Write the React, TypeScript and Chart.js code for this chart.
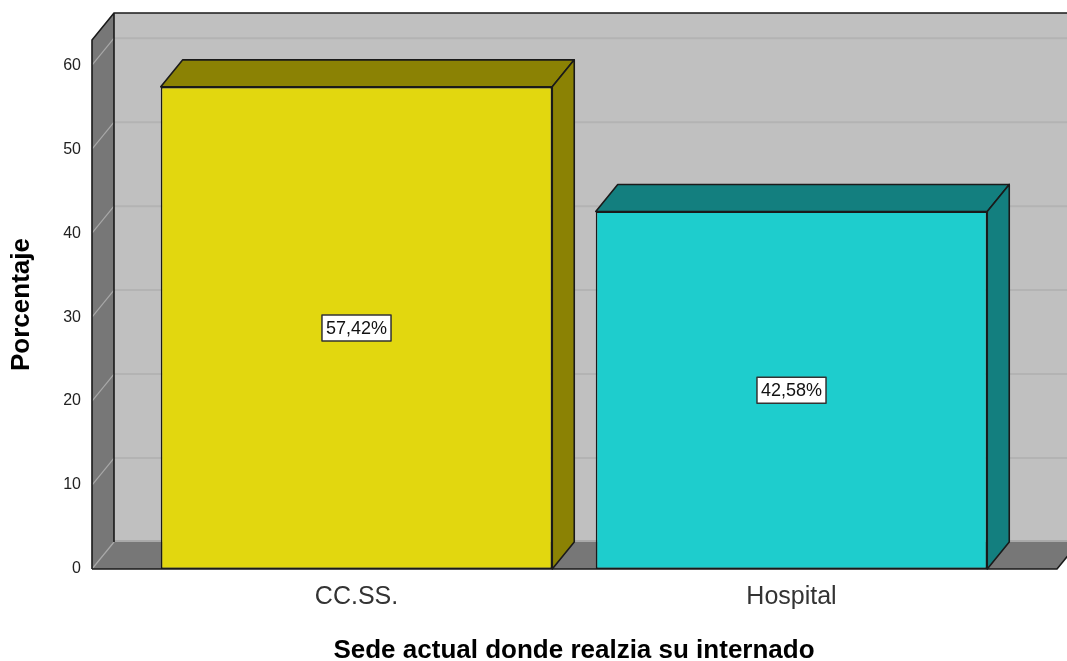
import React, { useEffect, useRef } from "react";
import { Chart, registerables } from "chart.js";

Chart.register(...registerables);

// ---- data ----
const categories = ["CC.SS.", "Hospital"];
const percentages = [57.42, 42.58];
const valueLabels = ["57,42%", "42,58%"];
const yTickValues = [0, 10, 20, 30, 40, 50, 60];
const yMin = 0;
const yMax = 63;

// ---- styles ----
const frontColors = ["#e2d70f", "#1ecdcd"];
const shadeColors = ["#8b8204", "#137f7f"];
const FONT = 'Arial, "Liberation Sans", Helvetica, sans-serif';
const DX = 22;
const DY = 27;
const WALL_LEFT_EXT = 47;
const WALL_RIGHT_EXT = 48;

const box3d = {
  id: "box3d",
  beforeDatasetsDraw(chart: any) {
    const { ctx, chartArea, scales } = chart;
    const ys = scales.y;
    const L = chartArea.left - WALL_LEFT_EXT;
    const R = chartArea.right + WALL_RIGHT_EXT;
    const T = chartArea.top;
    const B = chartArea.bottom;
    ctx.save();
    // back wall
    ctx.fillStyle = "#c0c0c0";
    ctx.fillRect(L + DX, T - DY, R - L + 40, B - T);
    // grid lines on back wall
    ctx.strokeStyle = "#b3b3b3";
    ctx.lineWidth = 2;
    yTickValues.forEach((v) => {
      if (v === 0) return;
      const py = ys.getPixelForValue(v) - DY;
      ctx.beginPath();
      ctx.moveTo(L + DX, py);
      ctx.lineTo(R + DX + 40, py);
      ctx.stroke();
    });
    // left wall
    ctx.fillStyle = "#777777";
    ctx.beginPath();
    ctx.moveTo(L, T);
    ctx.lineTo(L + DX, T - DY);
    ctx.lineTo(L + DX, B - DY);
    ctx.lineTo(L, B);
    ctx.closePath();
    ctx.fill();
    // floor
    ctx.beginPath();
    ctx.moveTo(L, B);
    ctx.lineTo(L + DX, B - DY);
    ctx.lineTo(R + DX, B - DY);
    ctx.lineTo(R, B);
    ctx.closePath();
    ctx.fill();
    // band where the floor meets the back wall
    ctx.strokeStyle = "#a9a9a9";
    ctx.lineWidth = 2;
    ctx.beginPath();
    ctx.moveTo(L + DX, B - DY - 1);
    ctx.lineTo(R + DX + 40, B - DY - 1);
    ctx.stroke();
    // diagonal grid on left wall
    ctx.strokeStyle = "#a8a8a8";
    ctx.lineWidth = 1.2;
    yTickValues.forEach((v) => {
      const py = ys.getPixelForValue(v);
      ctx.beginPath();
      ctx.moveTo(L, py);
      ctx.lineTo(L + DX, py - DY);
      ctx.stroke();
    });
    // outlines
    ctx.strokeStyle = "#1a1a1a";
    ctx.lineWidth = 1.6;
    ctx.beginPath();
    ctx.moveTo(L, B);
    ctx.lineTo(L, T);
    ctx.lineTo(L + DX, T - DY);
    ctx.lineTo(R + DX + 40, T - DY);
    ctx.moveTo(L + DX, T - DY);
    ctx.lineTo(L + DX, B - DY);
    ctx.moveTo(L, B);
    ctx.lineTo(R, B);
    ctx.lineTo(R + DX, B - DY);
    ctx.stroke();
    ctx.restore();
  },
  afterDatasetsDraw(chart: any) {
    const { ctx } = chart;
    const meta = chart.getDatasetMeta(0);
    ctx.save();
    meta.data.forEach((bar: any, i: number) => {
      const { x, y, base, width } = bar.getProps(["x", "y", "base", "width"], true);
      const l = x - width / 2;
      const r = x + width / 2;
      ctx.fillStyle = shadeColors[i];
      ctx.strokeStyle = "#1a1a1a";
      ctx.lineWidth = 1.6;
      ctx.lineJoin = "round";
      // top face
      ctx.beginPath();
      ctx.moveTo(l, y);
      ctx.lineTo(l + DX, y - DY);
      ctx.lineTo(r + DX, y - DY);
      ctx.lineTo(r, y);
      ctx.closePath();
      ctx.fill();
      ctx.stroke();
      // side face
      ctx.beginPath();
      ctx.moveTo(r, y);
      ctx.lineTo(r + DX, y - DY);
      ctx.lineTo(r + DX, base - DY);
      ctx.lineTo(r, base);
      ctx.closePath();
      ctx.fill();
      ctx.stroke();
      // value label
      const cy = (y + base) / 2;
      ctx.font = `18px ${FONT}`;
      const tw = ctx.measureText(valueLabels[i]).width;
      const bw = tw + 8;
      const bh = 26;
      ctx.fillStyle = "#ffffff";
      ctx.fillRect(x - bw / 2, cy - bh / 2, bw, bh);
      ctx.strokeStyle = "#333333";
      ctx.lineWidth = 1.5;
      ctx.strokeRect(x - bw / 2, cy - bh / 2, bw, bh);
      ctx.fillStyle = "#111111";
      ctx.textAlign = "center";
      ctx.textBaseline = "middle";
      ctx.fillText(valueLabels[i], x, cy + 1);
    });
    ctx.restore();
  },
};

export default function App() {
  const canvasRef = useRef<HTMLCanvasElement | null>(null);

  useEffect(() => {
    if (!canvasRef.current) return;
    const chart = new Chart(canvasRef.current, {
      type: "bar",
      data: {
        labels: categories,
        datasets: [
          {
            data: percentages,
            backgroundColor: frontColors,
            borderColor: "#1a1a1a",
            borderWidth: 1.6,
            borderSkipped: false,
            categoryPercentage: 0.9,
            barPercentage: 1,
          },
        ],
      },
      options: {
        responsive: false,
        animation: false,
        layout: { padding: { top: 40, right: 58, left: 0, bottom: 0 } },
        plugins: {
          legend: { display: false },
          tooltip: { enabled: false },
        },
        scales: {
          x: {
            grid: { display: false, drawTicks: false },
            border: { display: false },
            ticks: {
              padding: 16,
              color: "#333333",
              font: { family: FONT, size: 25, lineHeight: 1 },
            },
            title: {
              display: true,
              text: "Sede actual donde realzia su internado",
              color: "#000000",
              font: { family: FONT, size: 26, weight: "bold", lineHeight: 0.8 },
              padding: { top: 0, bottom: 0 },
            },
            afterFit: (scale: any) => {
              scale.height = 92;
            },
          },
          y: {
            min: yMin,
            max: yMax,
            grid: { display: false, drawTicks: false },
            border: { display: false },
            ticks: {
              stepSize: 10,
              includeBounds: false,
              padding: 58,
              color: "#222222",
              font: { family: FONT, size: 16 },
            },
            title: {
              display: true,
              text: "Porcentaje",
              color: "#000000",
              font: { family: FONT, size: 26, weight: "bold", lineHeight: 1 },
              padding: { top: 9, bottom: 0 },
            },
            afterFit: (scale: any) => {
              scale.width = 139;
              scale.paddingTop = 0;
              scale.paddingBottom = 0;
            },
          },
        },
      },
      plugins: [box3d],
    });
    return () => chart.destroy();
  }, []);

  return (
    <canvas
      ref={canvasRef}
      width={1067}
      height={661}
      style={{ position: "absolute", left: 0, top: 0, width: 1067, height: 661 }}
    />
  );
}
